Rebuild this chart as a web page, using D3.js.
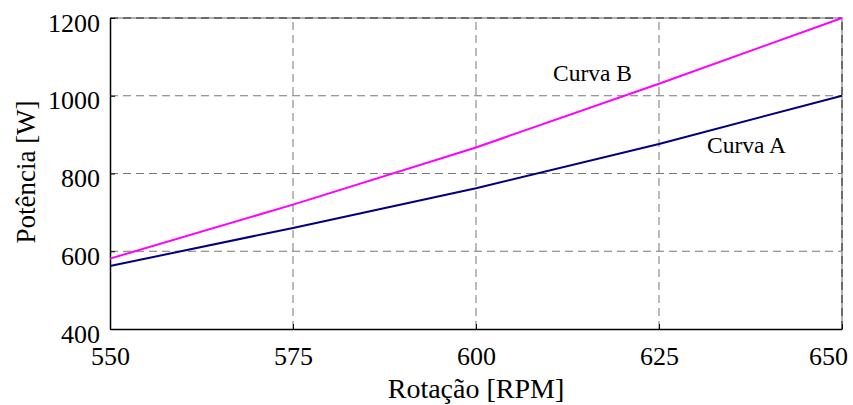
<!DOCTYPE html>
<html>
<head>
<meta charset="utf-8">
<script src="https://cdn.jsdelivr.net/npm/d3@7"></script>
</head>
<body style="margin:0; background:#fff">
<div id="chart"></div>
<script>
// rotation (RPM) and power (W)
const rotacao = [550, 575, 600, 625, 650];
const curvaA = [562, 660, 762, 876, 1000];
const curvaB = [581, 720, 867, 1031, 1200];
const xTicks = [550, 575, 600, 625, 650];
const yTicks = [400, 600, 800, 1000, 1200];

const width = 853, height = 405;
const margin = { top: 18, right: 11, bottom: 76, left: 110 };
const fontStack = "'Liberation Serif', 'Times New Roman', 'DejaVu Serif', serif";

const svg = d3.select("#chart").append("svg")
  .attr("width", width)
  .attr("height", height)
  .style("font-family", fontStack);

const x = d3.scaleLinear().domain([550, 650]).range([margin.left, width - margin.right]);
const y = d3.scaleLinear().domain([400, 1200]).range([height - margin.bottom, margin.top]);

// light border under the top/right grid lines
svg.append("path")
  .attr("d", `M${x(550)},${y(1200)}H${x(650)}V${y(400)}`)
  .attr("fill", "none")
  .attr("stroke", "#999")
  .attr("stroke-width", 1.5);

// grid
svg.append("g").selectAll("line").data(xTicks.slice(1)).join("line")
  .attr("x1", d => x(d)).attr("x2", d => x(d))
  .attr("y1", y(400)).attr("y2", y(1200))
  .attr("stroke", d => d === 650 ? "#555" : "#777")
  .attr("stroke-width", d => d === 650 ? 1.5 : 1)
  .attr("stroke-dasharray", "8,5");

svg.append("g").selectAll("line").data(yTicks.slice(1)).join("line")
  .attr("x1", x(550)).attr("x2", x(650))
  .attr("y1", d => y(d)).attr("y2", d => y(d))
  .attr("stroke", d => d === 1200 ? "#555" : "#777")
  .attr("stroke-width", d => d === 1200 ? 1.5 : 1)
  .attr("stroke-dasharray", "8,5");

// axes
const xAxis = svg.append("g")
  .attr("transform", `translate(0,${y(400)})`)
  .call(d3.axisBottom(x).tickValues(xTicks).tickFormat(d3.format("d"))
    .tickSizeInner(-5).tickSizeOuter(0).tickPadding(18));
const yAxis = svg.append("g")
  .attr("transform", `translate(${x(550)},0)`)
  .call(d3.axisLeft(y).tickValues(yTicks).tickFormat(d3.format("d"))
    .tickSizeInner(-5).tickSizeOuter(0).tickPadding(10));

[xAxis, yAxis].forEach(g => {
  g.attr("font-family", null).attr("font-size", null);
  g.select(".domain").attr("stroke", "#000").attr("stroke-width", 1.5);
  g.selectAll(".tick line").attr("stroke", "#000");
  g.selectAll(".tick text").attr("fill", "#000")
    .style("font-family", fontStack).style("font-size", "26px");
});
xAxis.selectAll(".tick text").attr("dy", "0.68em");
yAxis.selectAll(".tick text").attr("dy", "0.5em");
// last x label kept inside the canvas
xAxis.selectAll(".tick text").filter(d => d === 650).attr("dx", -14);

// curves
const line = d3.line()
  .x((d, i) => x(rotacao[i]))
  .y(d => y(d));

svg.append("path").datum(curvaA)
  .attr("d", line)
  .attr("fill", "none")
  .attr("stroke", "#000080")
  .attr("stroke-width", 2);

svg.append("path").datum(curvaB)
  .attr("d", line)
  .attr("fill", "none")
  .attr("stroke", "#ff00ff")
  .attr("stroke-width", 2);

// curve labels
svg.append("text").attr("x", 553).attr("y", 81)
  .style("font-family", fontStack).style("font-size", "23.5px").text("Curva B");
svg.append("text").attr("x", 707).attr("y", 153)
  .style("font-family", fontStack).style("font-size", "23.5px").text("Curva A");

// axis titles
svg.append("text")
  .attr("x", x(600)).attr("y", 398)
  .attr("text-anchor", "middle")
  .style("font-family", fontStack).style("font-size", "28px")
  .text("Rotação [RPM]");

svg.append("text")
  .attr("transform", `translate(35,172) rotate(-90)`)
  .attr("text-anchor", "middle")
  .style("font-family", fontStack).style("font-size", "27px")
  .text("Potência [W]");
</script>
</body>
</html>
